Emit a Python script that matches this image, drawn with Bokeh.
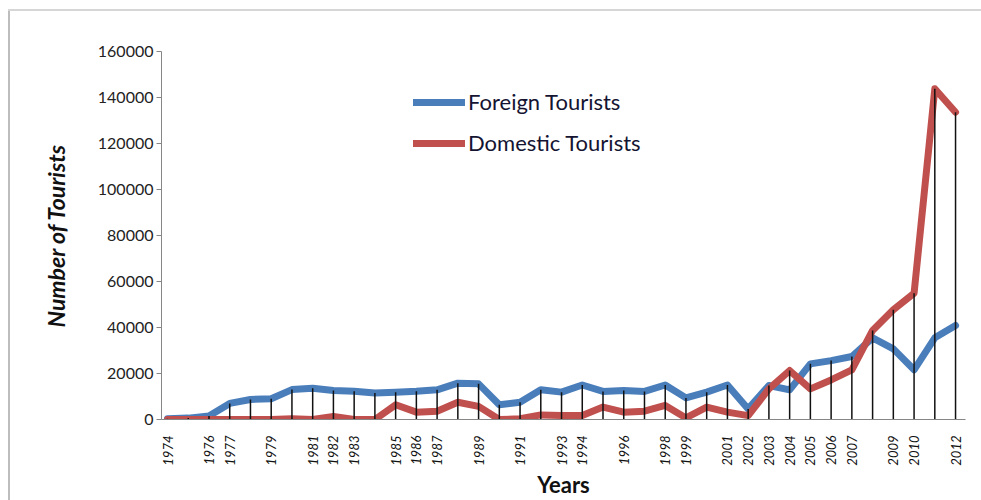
from bokeh.plotting import figure
from bokeh.models import FixedTicker, Legend, LegendItem, ColumnDataSource
from bokeh.embed import file_html
from bokeh.resources import INLINE
import math

years = list(range(1974, 2013))
foreign = [300, 600, 1500, 7000, 8700, 9000, 13000, 13600, 12600, 12300, 11500, 11900, 12300, 12900,
           15800, 15500, 6400, 7500, 12900, 11900, 15000, 12200, 12600, 12200, 15000, 9400, 11900, 15000,
           4600, 14800, 12900, 24200, 25600, 27400, 35500, 30700, 21600, 35500, 40900]
domestic = [0, 0, 0, 0, 0, 0, 300, 0, 1300, 0, 0, 6400, 3200, 3600,
            7500, 5700, 0, 300, 2000, 1700, 1700, 5400, 3200, 3600, 6100, 700, 5400, 3200,
            1700, 13300, 21300, 13300, 17200, 21600, 38700, 47700, 54900, 143800, 133600]
label_years = [1974, 1976, 1977, 1979, 1981, 1982, 1983, 1985, 1986, 1987, 1989, 1991, 1993, 1994,
               1996, 1998, 1999, 2001, 2002, 2003, 2004, 2005, 2006, 2007, 2009, 2010, 2012]
y_ticks = [0, 20000, 40000, 60000, 80000, 100000, 120000, 140000, 160000]

FONT = "Lato"

p = figure(width=981, height=500, output_backend="svg", toolbar_location=None,
           x_range=(1973.71, 2012.48), y_range=(0, 160000),
           min_border_left=161, min_border_right=16, min_border_top=51, min_border_bottom=81)
p.background_fill_color = "white"
p.border_fill_color = None
p.outline_line_color = None
p.xgrid.visible = False
p.ygrid.visible = False
p.styles = {"background": "linear-gradient(#d6d6d6, #d6d6d6) 8px 9px / calc(100% - 8px) 2px no-repeat, "
                          "linear-gradient(#bdbdbd, #bdbdbd) 8px 9px / 2px calc(100% - 9px) no-repeat, white"}

# y axis
p.yaxis.ticker = FixedTicker(ticks=y_ticks)
p.yaxis.axis_line_color = "#868686"
p.yaxis.major_tick_line_color = "#868686"
p.yaxis.major_tick_out = 5
p.yaxis.major_tick_in = 0
p.yaxis.minor_tick_line_color = None
p.yaxis.major_label_text_font = FONT
p.yaxis.major_label_text_font_size = "16px"
p.yaxis.major_label_text_color = "#222222"
p.yaxis.major_label_standoff = 3
p.yaxis.axis_label = "Number of Tourists"
p.yaxis.axis_label_text_font = FONT
p.yaxis.axis_label_text_font_size = "23px"
p.yaxis.axis_label_text_font_style = "bold italic"
p.yaxis.axis_label_text_color = "#111111"
p.yaxis.axis_label_standoff = 25
p.yaxis.formatter.use_scientific = False

# x axis
p.xaxis.ticker = FixedTicker(ticks=label_years)
p.xaxis.axis_line_color = "#868686"
p.xaxis.major_tick_line_color = None
p.xaxis.minor_tick_line_color = None
p.xaxis.major_label_orientation = math.pi / 2
p.xaxis.major_label_text_font = FONT
p.xaxis.major_label_text_font_size = "13px"
p.xaxis.major_label_text_font_style = "italic"
p.xaxis.major_label_text_color = "#111111"
p.xaxis.major_label_standoff = 10
p.xaxis.axis_label = "Years"
p.xaxis.axis_label_text_font = FONT
p.xaxis.axis_label_text_font_size = "22px"
p.xaxis.axis_label_text_font_style = "bold"
p.xaxis.axis_label_text_color = "#111111"
p.xaxis.axis_label_standoff = 2

src = ColumnDataSource(dict(year=years, foreign=foreign, domestic=domestic,
                            top=[max(a, b) for a, b in zip(foreign, domestic)],
                            zero=[0] * len(years)))

rf = p.line("year", "foreign", source=src, line_color="#4a7ebb", line_width=7, line_join="round", line_cap="round")
rd = p.line("year", "domestic", source=src, line_color="#c0504d", line_width=7, line_join="round", line_cap="round")
p.segment(x0="year", y0="zero", x1="year", y1="top", source=src, line_color="#111111", line_width=1.5)

legend = Legend(items=[LegendItem(label="Foreign Tourists", renderers=[rf]),
                       LegendItem(label="Domestic Tourists", renderers=[rd])],
                location=(252, 263))
legend.border_line_color = None
legend.background_fill_alpha = 0
legend.padding = 0
legend.margin = 0
legend.spacing = 14
legend.glyph_width = 52
legend.glyph_height = 24
legend.label_height = 24
legend.label_standoff = 3
legend.label_text_font = FONT
legend.label_text_font_size = "22px"
legend.label_text_color = "#141432"
p.add_layout(legend, "center")

open("out.html", "w").write(file_html(p, INLINE))
